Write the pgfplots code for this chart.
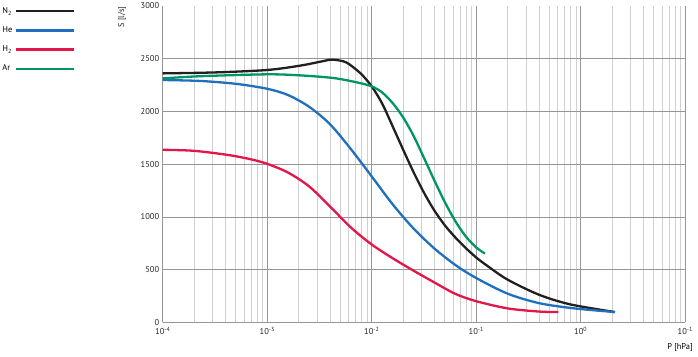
\documentclass[border=0pt]{standalone}
\usepackage{pgfplots}
\pgfplotsset{compat=1.18}
\usepackage{fontspec}
\setmainfont{PT Sans}
\definecolor{cN}{RGB}{35,31,32}
\definecolor{cHe}{RGB}{30,112,190}
\definecolor{cH}{RGB}{226,22,72}
\definecolor{cAr}{RGB}{0,150,100}
\definecolor{gmin}{RGB}{208,208,208}
\definecolor{gmaj}{RGB}{150,150,150}
\begin{document}
\begin{tikzpicture}
\useasboundingbox (-162.7bp,-34.7bp) rectangle (535.3bp,322.3bp);
\begin{axis}[at={(0,0)}, anchor=south west, scale only axis,
  width=522.5bp, height=316.3bp,
  xmode=log, xmin=1e-4, xmax=10, ymin=0, ymax=3000,
  xtick={1e-4,1e-3,1e-2,1e-1,1,10},
  xticklabels={10\textsuperscript{-4},10\textsuperscript{-3},10\textsuperscript{-2},10\textsuperscript{-1},10\textsuperscript{0},10\textsuperscript{-1}},
  ytick={0,500,1000,1500,2000,2500},
  minor y tick num=0,
  extra y ticks={3000}, extra y tick style={grid=none},
  axis x line*=bottom, axis y line*=left,
  axis line style={gmaj, line width=1.3bp, -},
  grid=both,
  major grid style={gmaj, line width=0.6bp},
  minor grid style={gmin, line width=0.6bp},
  major tick length=0pt, minor tick length=0pt,
  tick label style={font=\fontsize{8.5}{10}\selectfont, text=black!85},
  xticklabel style={yshift=-1.5bp},
  /pgf/number format/assume math mode=true,
  /pgf/number format/1000 sep={},
  xlabel={P [hPa]},
  xlabel style={at={(axis description cs:0.99,-0.081)}, anchor=center, font=\fontsize{8.5}{10}\selectfont},
  legend style={at={(axis description cs:-0.311,1.002)}, anchor=north west, draw=none, fill=none,
    font=\fontsize{8.5}{10}\selectfont, row sep=7.7bp, inner sep=0pt},
  legend cell align=left,
  legend plot pos=right,
  legend image code/.code={\draw[#1] (0bp,0bp) -- (58bp,0bp);},
  every axis plot/.append style={line width=2.3bp, smooth, tension=0.5},
]
\addplot[cN] coordinates {
(1e-4,2361) (3.162e-4,2370) (1e-3,2393) (2.061e-3,2434) (3.162e-3,2470) (4.140e-3,2491)
(5.370e-3,2475) (6.194e-3,2443) (7.943e-3,2355) (1e-2,2238) (1.259e-2,2075) (1.585e-2,1860)
(1.995e-2,1640) (2.512e-2,1425) (3.162e-2,1230) (3.981e-2,1060) (5.012e-2,920) (6.310e-2,805)
(7.943e-2,705) (0.1,615) (0.1259,540) (0.1995,405) (0.3981,262) (0.7943,170) (2.128,97)};
\addlegendentry{N\textsubscript{2}}
\addplot[cHe] coordinates {
(1e-4,2298) (2.291e-4,2289) (5.012e-4,2262) (1e-3,2215) (1.585e-3,2155) (2.512e-3,2045)
(3.981e-3,1880) (6.310e-3,1644) (1e-2,1384) (1.585e-2,1120) (2.512e-2,890) (3.981e-2,700)
(6.310e-2,544) (0.1,420) (0.1995,272) (0.3981,182) (0.8511,133) (2.128,97)};
\addlegendentry{He}
\addplot[cH] coordinates {
(1e-4,1636) (1.963e-4,1627) (4.093e-4,1589) (6.839e-4,1548) (1e-3,1503) (1.585e-3,1420)
(2.512e-3,1290) (3.981e-3,1100) (6.310e-3,900) (1e-2,738) (1.585e-2,608) (2.512e-2,490)
(3.981e-2,378) (6.310e-2,270) (0.1,200) (0.1995,132) (0.3981,102) (0.611,97)};
\addlegendentry{H\textsubscript{2}}
\addplot[cAr] coordinates {
(1e-4,2313) (2.291e-4,2334) (1e-3,2352) (2.061e-3,2342) (4.295e-3,2317) (7.178e-3,2276)
(1e-2,2238) (1.259e-2,2180) (1.585e-2,2080) (1.995e-2,1945) (2.512e-2,1770) (3.162e-2,1560)
(3.981e-2,1345) (5.012e-2,1140) (6.310e-2,960) (7.943e-2,815) (0.1,710) (0.1213,652)};
\addlegendentry{Ar}
\end{axis}
\node[rotate=90, font=\fontsize{8.5}{10}\selectfont, text=black!85] at (-40.7bp,305.3bp) {S [l/s]};
\end{tikzpicture}
\end{document}
